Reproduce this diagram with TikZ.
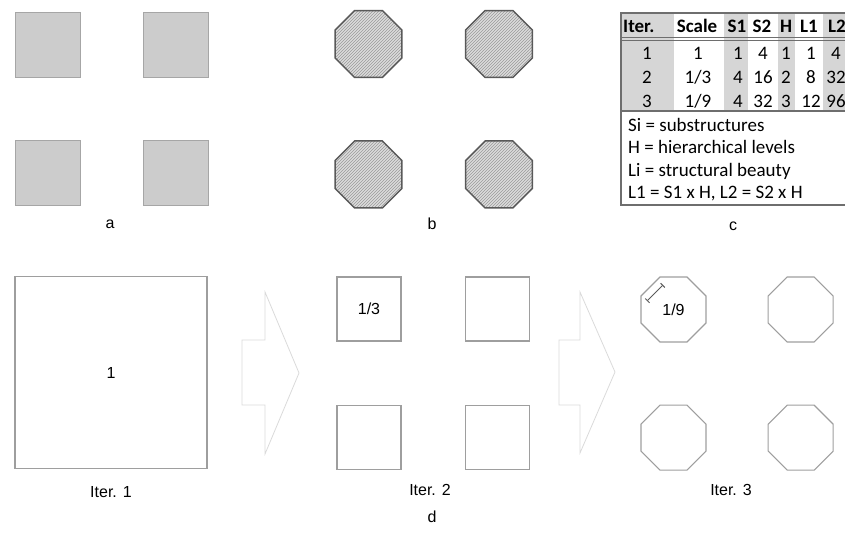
\documentclass[tikz,border=0pt]{standalone}
\usepackage{fontspec}
\setmainfont{Liberation Sans}
\newfontfamily\tabfont{Carlito}
\usepackage{tikz}
\usetikzlibrary{positioning}
\usetikzlibrary{shapes.geometric}
\usetikzlibrary{patterns}
\usetikzlibrary{arrows.meta}
\definecolor{boxgray}{HTML}{CCCCCC}
\definecolor{edgea}{HTML}{A6A6A6}
\definecolor{octedge}{HTML}{595959}
\definecolor{hatchbg}{HTML}{DCDCDC}
\definecolor{hatchline}{HTML}{9A9A9A}
\definecolor{lightedge}{HTML}{9E9E9E}
\definecolor{arrowgray}{HTML}{DADADA}
\definecolor{tabgray}{HTML}{D6D6D6}
\definecolor{tabline}{HTML}{6E6E6E}

\begin{document}
\begin{tikzpicture}[x=1pt,y=-1pt,node distance=62pt,font=\fontsize{16}{18}\selectfont]
\tikzstyle{sqa}=[draw=edgea, fill=boxgray, line width=1.2pt, minimum size=65pt, inner sep=0pt]
\tikzstyle{octb}=[regular polygon, regular polygon sides=8, draw=octedge, line width=1.5pt, minimum size=72.5pt, inner sep=0pt, preaction={fill=hatchbg}, pattern=north east lines, pattern color=hatchline]
\tikzstyle{sqd}=[draw=lightedge, line width=1.1pt, minimum size=64pt, inner sep=0pt]
\tikzstyle{octd}=[regular polygon, regular polygon sides=8, draw=lightedge, line width=1.1pt, minimum size=70.4pt, inner sep=0pt]
\tikzstyle{bigarrow}=[draw=arrowgray, line width=0.8pt]
\tikzstyle{tabtxt}=[font=\tabfont\fontsize{19}{20}\selectfont, inner sep=0pt, anchor=base]
\tikzstyle{tabhead}=[tabtxt, font=\tabfont\bfseries\fontsize{19}{20}\selectfont]
\useasboundingbox (0,0) rectangle (845,534);

% a: grey squares
\node[sqa]	(A1)	at (48,45)		{};
\node[sqa]	(A2)	[right= of A1]	{};
\node[sqa]	(A3)	[below= of A1]	{};
\node[sqa]	(A4)	[below= of A2]	{};
\node		(la)	at (110,224)	{a};

% b: hatched octagons
\node[octb]	(B1)	at (368.5,44)	{};
\node[octb]	(B2)	[right= of B1]	{};
\node[octb]	(B3)	[below= of B1]	{};
\node[octb]	(B4)	[below= of B2]	{};
\node		(lb)	at (432,224)	{b};

% c: table
\fill[tabgray] (621,13) rectangle (674,111);
\fill[tabgray] (724,13) rectangle (748,111);
\fill[tabgray] (778,13) rectangle (795,111);
\fill[tabgray] (823,13) rectangle (845,111);
\draw[tabline, line width=1.3pt] (845,13) -- (621,13) -- (621,205) -- (845,205);
\draw[tabline, line width=0.8pt] (621,37) -- (845,37) (621,40) -- (845,40);
\draw[tabline, line width=1.4pt] (621,111) -- (845,111);
\node[tabhead, anchor=base west]	(hIter)		at (623,33)	{Iter.};
\node[tabhead]	(hScale)	at (697,33)	{Scale};
\node[tabhead]	(hS1)		at (737,33)	{S1};
\node[tabhead]	(hS2)		at (762,33)	{S2};
\node[tabhead]	(hH)		at (786,33)	{H};
\node[tabhead]	(hL1)		at (809,33)	{L1};
\node[tabhead, anchor=base east]	(hL2)		at (846,33)	{L2};
\node[tabtxt]	(r1c1)	at (647,60)	{1};
\node[tabtxt]	(r1c2)	at (698,60)	{1};
\node[tabtxt]	(r1c3)	at (738,60)	{1};
\node[tabtxt]	(r1c4)	at (763,60)	{4};
\node[tabtxt]	(r1c5)	at (786,60)	{1};
\node[tabtxt]	(r1c6)	at (811,60)	{1};
\node[tabtxt]	(r1c7)	at (836,60)	{4};
\node[tabtxt]	(r2c1)	at (647,84)	{2};
\node[tabtxt]	(r2c2)	at (698,84)	{1/3};
\node[tabtxt]	(r2c3)	at (738,84)	{4};
\node[tabtxt]	(r2c4)	at (763,84)	{16};
\node[tabtxt]	(r2c5)	at (786,84)	{2};
\node[tabtxt]	(r2c6)	at (811,84)	{8};
\node[tabtxt]	(r2c7)	at (836,84)	{32};
\node[tabtxt]	(r3c1)	at (647,108)	{3};
\node[tabtxt]	(r3c2)	at (698,108)	{1/9};
\node[tabtxt]	(r3c3)	at (738,108)	{4};
\node[tabtxt]	(r3c4)	at (763,108)	{32};
\node[tabtxt]	(r3c5)	at (786,108)	{3};
\node[tabtxt]	(r3c6)	at (811,108)	{12};
\node[tabtxt]	(r3c7)	at (836,108)	{96};
\node[tabtxt, anchor=base west]	(kSi)	at (628,132)	{Si = substructures};
\node[tabtxt, anchor=base west]	(kH)	at (628,154)	{H = hierarchical levels};
\node[tabtxt, anchor=base west]	(kLi)	at (628,177)	{Li = structural beauty};
\node[tabtxt, anchor=base west]	(kL)	at (628,199)	{L1 = S1 x H, L2 = S2 x H};
\node		(lc)	at (733,226)	{c};

% d: iterations
\node[sqd, minimum size=192pt]	(D1)	at (111,372.5)	{1};
\node		(ld1)	[below=14pt of D1]	{Iter. 1};
\draw[bigarrow] (242,340) -- (265,340) -- (265,292) -- (299,373) -- (265,454) -- (265,405) -- (242,405) -- cycle;
\node[sqd]	(E1)	at (369,309)	{1/3};
\node[sqd]	(E2)	[right=63pt of E1]	{};
\node[sqd]	(E3)	[below=63pt of E1]	{};
\node[sqd]	(E4)	[below=63pt of E2]	{};
\node		(ld2)	at (430,490)	{Iter. 2};
\draw[bigarrow] (559,340) -- (580,340) -- (580,292) -- (615,372) -- (580,453) -- (580,405) -- (559,405) -- cycle;
\node[octd]	(F1)	at (673.5,309.5)	{1/9};
\node[octd]	(F2)	[right=61pt of F1]	{};
\node[octd]	(F3)	[below=62pt of F1]	{};
\node[octd]	(F4)	[below=62pt of F2]	{};
\draw[octedge, line width=1pt, {Bar[width=6pt]}-{Bar[width=6pt]}] ([shift={(-26.5,-8.5)}]F1.center) -- ([shift={(-10.5,-24.5)}]F1.center);
\node		(ld3)	at (731,490)	{Iter. 3};
\node		(ld)	at (432,517)	{d};
\end{tikzpicture}
\end{document}
